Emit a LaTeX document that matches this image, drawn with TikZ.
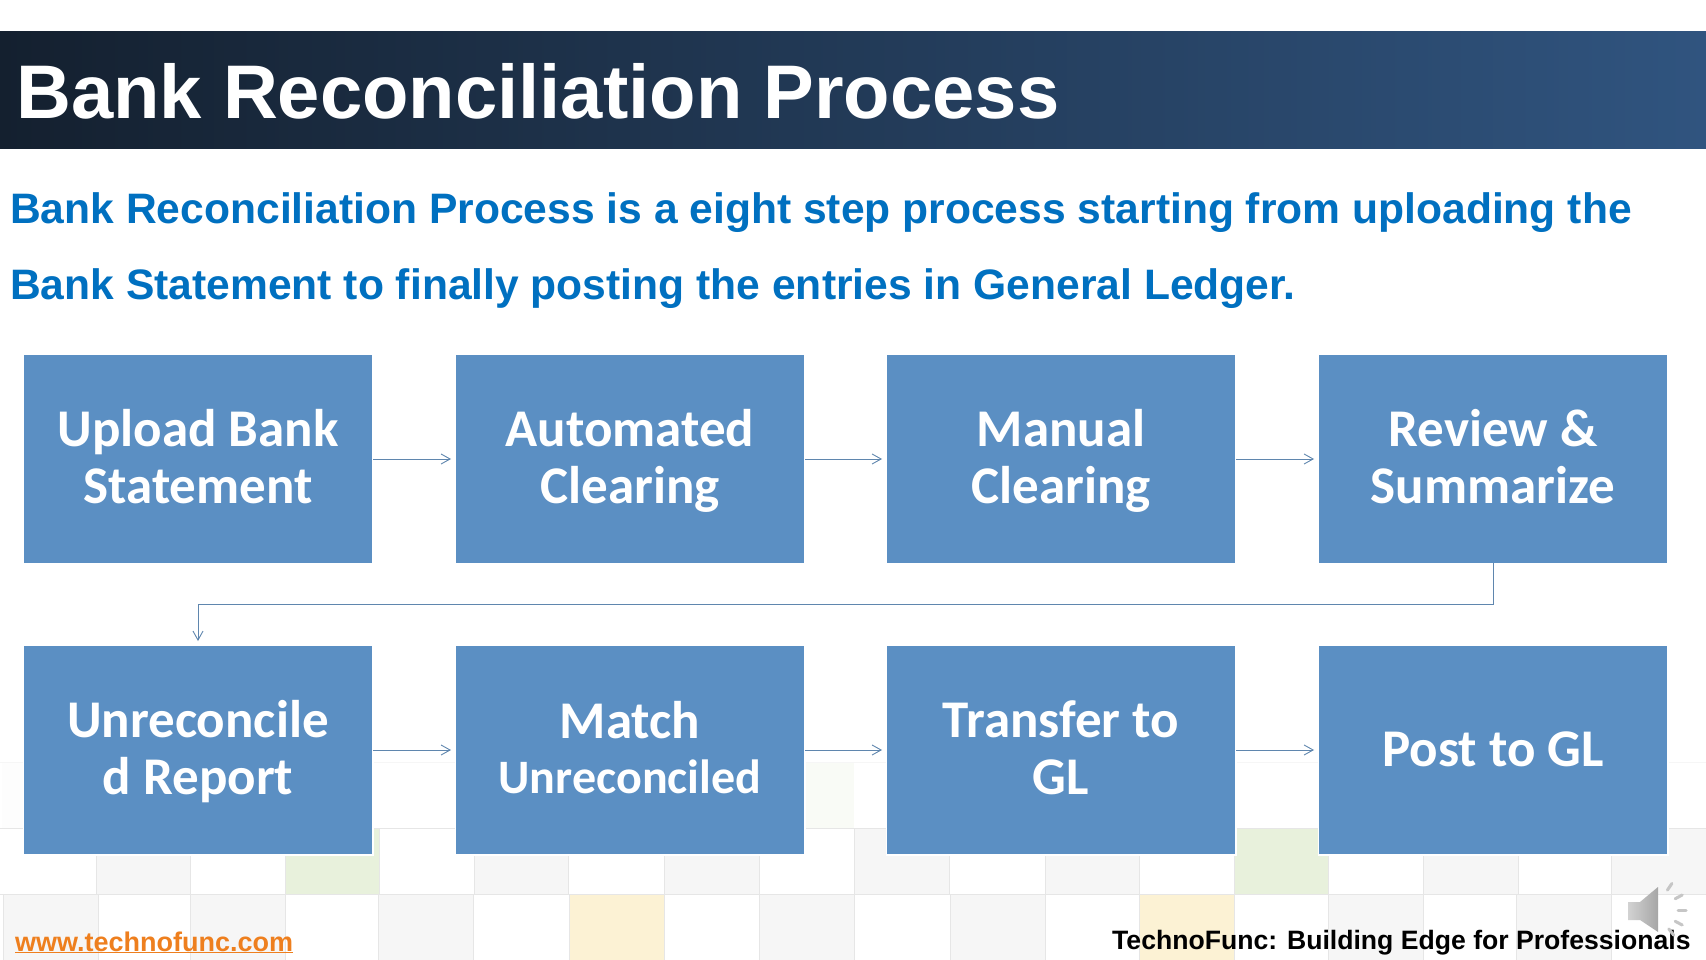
\documentclass[tikz,border=0pt]{standalone}
\usepackage{fontspec}
\setmainfont{Liberation Sans}
\newfontfamily\boxfont{Carlito}
\definecolor{boxblue}{HTML}{5B8FC3}
\definecolor{linkblue}{HTML}{5F86AE}
\definecolor{headblue}{HTML}{0070C0}
\definecolor{cellgray}{HTML}{F6F6F6}
\definecolor{cellgreen}{HTML}{E8F1DC}
\definecolor{cellyellow}{HTML}{FCF2D4}
\definecolor{gridline}{HTML}{E6E6E6}
\definecolor{urlorange}{HTML}{EE7F1E}
\definecolor{barleft}{HTML}{14202F}
\definecolor{barright}{HTML}{30547F}
\usetikzlibrary{arrows.meta}
\tikzset{
  stepbox/.style={fill=boxblue,minimum width=348pt,minimum height=208pt,inner sep=0pt,outer sep=0pt,align=center,text=white,font=\boxfont\bfseries\fontsize{53}{57.5}\selectfont},
  halo/.style={draw=white,line width=3pt},
  link/.style={draw=linkblue,line width=0.9pt,-{Straight Barb[length=9pt,width=10pt,line width=0.9pt]}}
}
\newcommand{\boxln}[1]{\rule[-9pt]{0pt}{50pt}\smash{#1}}
\begin{document}
\begin{tikzpicture}[x=1pt,y=-1pt]
\useasboundingbox (0,0) rectangle (1706,960);
\fill[white] (0,0) rectangle (1706,960);
% background grid
\foreach \a/\b/\c in {3/98/cellgray,190/285/cellgray,378/473/cellgray,569/664/cellyellow,759/854/cellgray,950/1045/cellgray,1139/1234/cellyellow,1328/1423/cellgray,1516/1611/cellgray}
  \fill[\c] (\a,894) rectangle (\b,960);
\foreach \a/\b/\c in {96/190/cellgray,285/379/cellgreen,474/568/cellgray,664/759/cellgray,854/949/cellgray,1045/1139/cellgray,1234/1328/cellgreen,1423/1518/cellgray,1611/1706/cellgray}
  \fill[\c] (\a,828) rectangle (\b,894);
\fill[cellgray!25] (2,762) rectangle (90,828);
\fill[cellgreen!25] (806,762) rectangle (854,828);
\draw[gridline!35,line width=0.5pt] (0,762) -- (1706,762);
\foreach \x in {3,98,190,285,378,473,569,664,759,854,950,1045,1139,1234,1328,1423,1516,1611}
  \draw[gridline,line width=0.5pt] (\x,894) -- (\x,960);
\foreach \x in {96,190,285,379,474,568,664,759,854,949,1045,1139,1234,1328,1423,1518,1611}
  \draw[gridline,line width=0.5pt] (\x,828) -- (\x,894);
\draw[gridline,line width=0.6pt] (0,894) -- (1706,894);
\draw[gridline,line width=0.6pt] (0,828) -- (1706,828);
% title bar
\shade[left color=barleft,right color=barright] (0,32) rectangle (1706,149);
\node[anchor=base west,inner sep=0pt,text=white,font=\bfseries\fontsize{76}{90}\selectfont] (title) at (16,119) {Bank Reconciliation Process};
\node[anchor=base west,inner sep=0pt,text=headblue,font=\bfseries\fontsize{42.6}{50}\selectfont] (sub1) at (10,224) {Bank Reconciliation Process is a eight step process starting from uploading the};
\node[anchor=base west,inner sep=0pt,text=headblue,font=\bfseries\fontsize{42.6}{50}\selectfont] (sub2) at (10,299) {Bank Statement to finally posting the entries in General Ledger.};
% boxes
\foreach \cx/\cy in {198/459,630/459,1061/459,1493/459,198/750,630/750,1061/750,1493/750}
  \draw[halo] (\cx-174,\cy-104) rectangle (\cx+174,\cy+104);
\node[stepbox] (b1) at (198,459) {\boxln{Upload Bank}\\\boxln{Statement}};
\node[stepbox] (b2) at (630,459) {\boxln{Automated}\\\boxln{Clearing}};
\node[stepbox] (b3) at (1061,459) {\boxln{Manual}\\\boxln{Clearing}};
\node[stepbox] (b4) at (1493,459) {\boxln{Review \&}\\\boxln{Summarize}};
\node[stepbox] (b5) at (198,750) {\boxln{Unreconcile}\\\boxln{d Report}};
\node[stepbox] (b6) at (630,750) {\boxln{Match}\\[-3pt]{\fontsize{48}{50}\selectfont\boxln{Unreconciled}}};
\node[stepbox] (b7) at (1061,750) {\boxln{Transfer to}\\\boxln{GL}};
\node[stepbox] (b8) at (1493,750) {\boxln{Post to GL}};
% connectors
\tikzset{gap/.style={shorten <=1pt,shorten >=5pt}}
\draw[link,gap] (b1.east) -- (b2.west);
\draw[link,gap] (b2.east) -- (b3.west);
\draw[link,gap] (b3.east) -- (b4.west);
\draw[link,gap] (b5.east) -- (b6.west);
\draw[link,gap] (b6.east) -- (b7.west);
\draw[link,gap] (b7.east) -- (b8.west);
\coordinate (mr) at (1493,604);
\coordinate (ml) at (198,604);
\draw[link,shorten >=5pt] (b4.south) -- (mr) -- (ml) -- (b5.north);
% footer
\node[anchor=base west,inner sep=0pt,text=urlorange,font=\bfseries\fontsize{27}{30}\selectfont] (url) at (15,951) {\underline{www.technofunc.com}};
\node[anchor=base west,inner sep=0pt,text=black,font=\bfseries\fontsize{26.6}{30}\selectfont] (tag) at (1112,949) {TechnoFunc: Building Edge for Professionals};
% speaker
\shade[left color=gray!35,right color=gray!70] (1628,902) -- (1640,902) -- (1658,887) -- (1658,932) -- (1640,920) -- (1628,920) -- cycle;
\foreach \a in {-56,-28,0,28,52}
  \draw[gray!45,line width=3pt,line cap=round] ([shift={(\a:24)}]1654,910) -- ([shift={(\a:32)}]1654,910);
\end{tikzpicture}
\end{document}
